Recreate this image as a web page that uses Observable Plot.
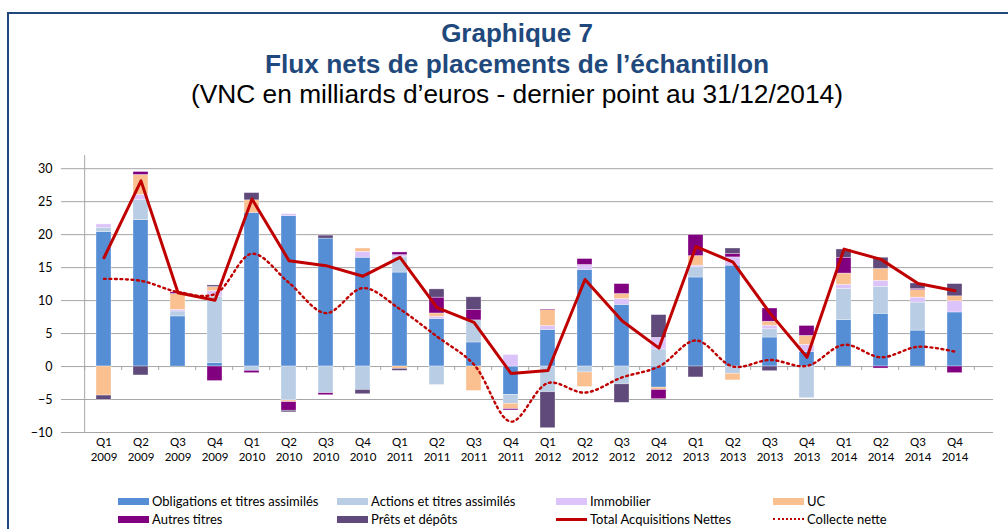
<!DOCTYPE html>
<html>
<head>
<meta charset="utf-8">
<script src="https://cdn.jsdelivr.net/npm/d3@7"></script>
<script src="https://cdn.jsdelivr.net/npm/@observablehq/plot@0.6"></script>
<style>
  html, body { margin: 0; padding: 0; background: #fff; overflow: hidden; }
  #wrap { position: relative; width: 1008px; height: 529px; overflow: hidden; }
  #frame { position: absolute; left: 7px; top: 12px; width: 1100px; height: 700px;
           border: 2.5px solid #1F497D; box-sizing: border-box; }
  .t { position: absolute; left: 7px; width: 1020px; text-align: center; line-height: 30px;
       font-family: "Liberation Sans", Arial, sans-serif; white-space: nowrap; }
  .t1 { top: 18px; font-size: 26px; font-weight: bold; color: #1F497D; }
  .t2 { top: 49px; font-size: 26.3px; font-weight: bold; color: #1F497D; }
  .t3 { top: 79px; font-size: 26.3px; color: #000; }
  #chart { position: absolute; left: 0; top: 0; }
  #chart svg { background: transparent; }
  .leg { position: absolute; font-family: Lato, "Noto Sans", sans-serif; font-size: 13px; color: #000;
         display: flex; align-items: center; white-space: nowrap; }
  .sw { width: 31px; height: 7px; margin-right: 3px; }
  .ln { width: 31px; height: 0; margin-right: 3px; }
</style>
</head>
<body>
<div id="wrap">
  <div id="frame"></div>
  <div id="chart"></div>
  <div class="t t1">Graphique 7</div>
  <div class="t t2">Flux nets de placements de l’échantillon</div>
  <div class="t t3">(VNC en milliards d’euros - dernier point au 31/12/2014)</div>
  <div id="legend"></div>
</div>
<script>
// ---- Data ----
const quarters = ["Q1","Q2","Q3","Q4","Q1","Q2","Q3","Q4","Q1","Q2","Q3","Q4","Q1","Q2","Q3","Q4","Q1","Q2","Q3","Q4","Q1","Q2","Q3","Q4"];
const years = ["2009","2009","2009","2009","2010","2010","2010","2010","2011","2011","2011","2011","2012","2012","2012","2012","2013","2013","2013","2013","2014","2014","2014","2014"];

const seriesNames = ["Obligations et titres assimilés", "Actions et titres assimilés", "Immobilier", "UC", "Autres titres", "Prêts et dépôts"];
const seriesColors = ["#558ED5", "#B9CDE5", "#DCC3FA", "#FAC090", "#800080", "#604A7B"];

const obligations = [20.4, 22.2, 7.6, 0.55, 23.3, 22.8, 19.4, 16.5, 14.25, 7.2, 3.65, -4.3, 5.55, 14.65, 9.35, -3.2, 13.5, 15.3, 4.4, 2.2, 7.05, 8.0, 5.45, 8.2];
const actions = [0.65, 3.1, 0.75, 10.05, -0.65, -5.15, -4.05, -3.55, 2.3, -2.8, 3.35, -1.35, -3.9, -0.9, -2.7, 2.6, 1.55, -1.1, 1.25, -4.8, 4.75, 4.1, 4.25, 0];
const immobilier = [0.5, 0.75, 0.25, 0.85, 0, 0.3, 0, 0.9, 0.35, 0.35, 0, 1.75, 0.6, 0.75, 0.9, 1.75, 0.25, 1.25, 0.55, 1.1, 0.6, 0.9, 0.75, 1.7];
const uc = [-4.4, 3.0, 2.4, 0.6, 1.9, -0.25, 0, 0.5, -0.35, 0.5, -3.7, -0.8, 2.4, -2.2, 0.75, -0.35, 1.45, -1.0, 0.6, 1.35, 1.7, 1.8, 1.15, 0.75];
const autresTitres = [0, 0.45, 0.25, -2.2, -0.35, -1.3, -0.3, 0, 0.4, 2.4, 1.6, -0.2, 0.1, 0.9, 1.5, -1.4, 3.2, 0.55, 2.0, 1.5, 2.4, -0.3, 0.15, -1.0];
const pretsDepots = [-0.65, -1.35, 0, 0.25, 1.1, -0.25, 0.45, -0.65, -0.3, 1.25, 1.9, 0, -5.45, 0, -2.8, 3.45, -1.65, 0.8, -0.7, 0, 1.25, 1.7, 0.85, 1.85];

const totalAcquisitions = [16.5, 28.15, 11.2, 10.05, 25.4, 16.05, 15.3, 13.7, 16.55, 8.95, 6.7, -1.05, -0.6, 13.2, 6.95, 2.8, 18.2, 15.85, 8.1, 1.4, 17.8, 16.25, 12.6, 11.5];
const collecteNette = [13.3, 13.0, 11.3, 11.0, 17.1, 12.7, 8.1, 11.9, 8.7, 4.55, 0.3, -8.35, -2.5, -3.95, -1.65, 0.0, 3.95, 0.0, 1.0, 0.1, 3.3, 1.4, 3.0, 2.25];

const yTicks = [-10, -5, 0, 5, 10, 15, 20, 25, 30];

// ---- Build tables ----
const keys = quarters.map((q, i) => q + " " + years[i]);
const seriesValues = [obligations, actions, immobilier, uc, autresTitres, pretsDepots];
const bars = [];
seriesNames.forEach((s, si) => {
  seriesValues[si].forEach((v, i) => bars.push({key: keys[i], serie: s, value: v}));
});
const lineTotal = keys.map((k, i) => ({key: k, value: totalAcquisitions[i]}));
const lineCollecte = keys.map((k, i) => ({key: k, value: collecteNette[i]}));

const W = 1008, H = 478, ML = 65, MR = 15, MT = 155, MB = H - 432;
const step = (W - ML - MR) / keys.length;
const gray = "#A6A6A6";

const chart = Plot.plot({
  width: W, height: H,
  marginLeft: ML, marginRight: MR, marginTop: MT, marginBottom: MB,
  style: {background: "transparent", fontFamily: "Lato, 'Noto Sans', sans-serif", color: "#000"},
  x: {domain: keys, padding: 0.6, label: null},
  y: {domain: [-10, 32], label: null},
  color: {domain: seriesNames, range: seriesColors},
  marks: [
    Plot.gridY(yTicks, {stroke: gray, strokeOpacity: 1, strokeWidth: 1}),
    Plot.ruleX([keys[0]], {x: d => d, y1: -10, y2: 32, dx: -step / 2, stroke: gray, strokeWidth: 1}),
    Plot.axisY(yTicks, {tickSize: 4, tickPadding: 9, stroke: gray, fill: "#000", fontSize: 12.5}),
    Plot.barY(bars, {x: "key", y: "value", fill: "serie", stroke: "#fff", strokeOpacity: 0.55, strokeWidth: 0.6}),
    Plot.ruleX(keys, {x: d => d, y1: 0, y2: -0.6, dx: -step / 2, stroke: gray, strokeWidth: 1}),
    Plot.ruleX([keys[keys.length - 1]], {x: d => d, y1: 0, y2: -0.6, dx: step / 2, stroke: gray, strokeWidth: 1}),
    Plot.line(lineTotal, {x: "key", y: "value", stroke: "#C00000", strokeWidth: 3, strokeLinejoin: "round"}),
    Plot.line(lineCollecte, {x: "key", y: "value", stroke: "#C00000", strokeWidth: 2.4, strokeDasharray: "1.9,3.6", curve: "catmull-rom"}),
    Plot.axisX({tickSize: 0, tickPadding: 3, fontSize: 11.5, lineHeight: 1.3, fill: "#000", tickFormat: d => d.replace(" ", "\n")})
  ]
});
document.getElementById("chart").appendChild(chart);

// ---- Legend ----
const legendItems = [
  {label: seriesNames[0], type: "sw", color: seriesColors[0], x: 118, y: 501},
  {label: seriesNames[1], type: "sw", color: seriesColors[1], x: 337, y: 501},
  {label: seriesNames[2], type: "sw", color: seriesColors[2], x: 556, y: 501},
  {label: seriesNames[3], type: "sw", color: seriesColors[3], x: 773, y: 501},
  {label: seriesNames[4], type: "sw", color: seriesColors[4], x: 118, y: 519},
  {label: seriesNames[5], type: "sw", color: seriesColors[5], x: 337, y: 519},
  {label: "Total Acquisitions Nettes", type: "solid", x: 556, y: 519},
  {label: "Collecte nette", type: "dot", x: 773, y: 519}
];
const leg = document.getElementById("legend");
legendItems.forEach(it => {
  const d = document.createElement("div");
  d.className = "leg";
  d.style.left = it.x + "px";
  d.style.top = (it.y - 8) + "px";
  d.style.height = "16px";
  const s = document.createElement("div");
  if (it.type === "sw") { s.className = "sw"; s.style.background = it.color; }
  else if (it.type === "solid") { s.className = "ln"; s.style.borderTop = "3px solid #C00000"; }
  else { s.className = "ln"; s.style.borderTop = "2.5px dotted #C00000"; }
  d.appendChild(s);
  const t = document.createElement("span");
  t.textContent = it.label;
  d.appendChild(t);
  leg.appendChild(d);
});
</script>
</body>
</html>
